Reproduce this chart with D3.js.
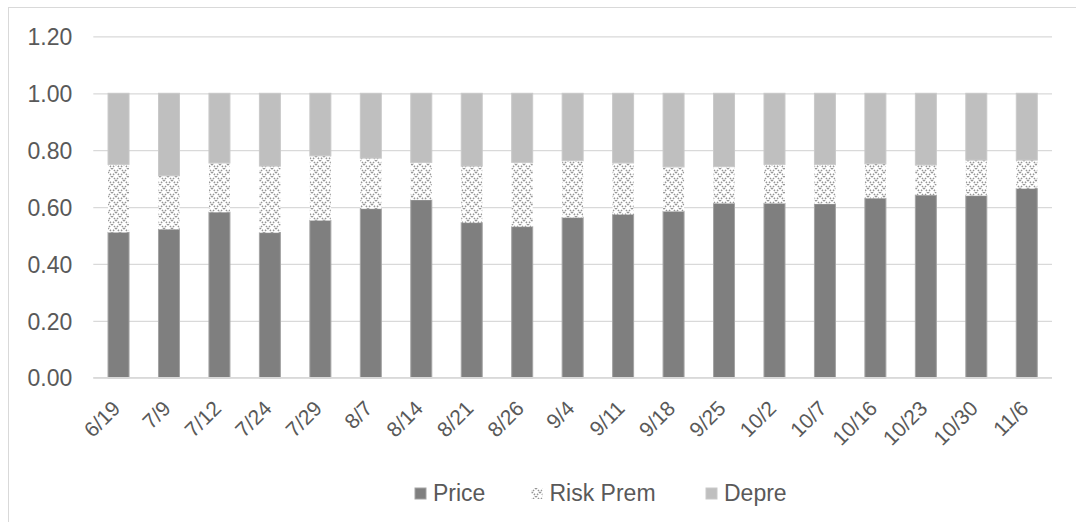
<!DOCTYPE html>
<html>
<head>
<meta charset="utf-8">
<script src="https://cdn.jsdelivr.net/npm/d3@7"></script>
<style>
  html, body { margin: 0; padding: 0; background: #fff; }
  svg { display: block; font-family: "Liberation Sans", Arial, sans-serif; }
</style>
</head>
<body>
<svg id="chart" width="1076" height="522"></svg>
<script>
// Weekly breakdown of the total into price, risk premium and depreciation shares
const categories = ["6/19","7/9","7/12","7/24","7/29","8/7","8/14","8/21","8/26","9/4","9/11","9/18","9/25","10/2","10/7","10/16","10/23","10/30","11/6"];
const price    = [0.511,0.522,0.582,0.510,0.553,0.594,0.625,0.545,0.531,0.563,0.574,0.585,0.613,0.613,0.611,0.631,0.642,0.640,0.665];
const riskPrem = [0.239,0.188,0.173,0.234,0.227,0.178,0.132,0.199,0.226,0.200,0.181,0.156,0.129,0.137,0.139,0.121,0.106,0.125,0.100];
const depre    = [0.250,0.290,0.245,0.256,0.220,0.228,0.243,0.256,0.243,0.237,0.245,0.259,0.258,0.250,0.250,0.248,0.252,0.235,0.235];
const seriesNames = ["Price", "Risk Prem", "Depre"];
const yTicks = [0, 0.2, 0.4, 0.6, 0.8, 1.0, 1.2];

const svg = d3.select("#chart");
const textColor = "#595959";
const gridColor = "#d9d9d9";

// chart area frame
svg.append("rect")
  .attr("x", 8.5).attr("y", 7.5)
  .attr("width", 1100).attr("height", 600)
  .attr("fill", "none").attr("stroke", gridColor);

// dotted-diamond hatch for the risk premium segment
const defs = svg.append("defs");
const pat = defs.append("pattern")
  .attr("id", "dotDiamond")
  .attr("patternUnits", "userSpaceOnUse")
  .attr("width", 8).attr("height", 8);
pat.append("rect").attr("width", 8).attr("height", 8).attr("fill", "#ffffff");
pat.append("path")
  .attr("d", "M0,0L8,8M8,0L0,8")
  .attr("stroke", "#969696")
  .attr("stroke-width", 1.6)
  .attr("stroke-dasharray", "1.4,1.4");

const margin = { left: 93.3, right: 1052, top: 36.4, bottom: 377.7 };

const x = d3.scaleBand()
  .domain(categories)
  .range([margin.left, margin.right])
  .paddingInner(0.584)
  .paddingOuter(0.292);

const y = d3.scaleLinear()
  .domain([0, 1.2])
  .range([margin.bottom, margin.top]);

// gridlines and y labels
const yAxis = d3.axisLeft(y)
  .tickValues(yTicks)
  .tickSize(-(margin.right - margin.left))
  .tickPadding(21)
  .tickFormat(d3.format(".2f"));

const gy = svg.append("g")
  .attr("transform", `translate(${margin.left},0)`)
  .call(yAxis);
gy.select(".domain").remove();
gy.selectAll(".tick line").attr("stroke", gridColor).attr("stroke-width", 1.3);
gy.selectAll(".tick text")
  .attr("fill", textColor)
  .attr("font-size", 23)
  .attr("dy", "0.36em");

// stacked bars
const rows = categories.map((c, i) => ({ cat: c, "Price": price[i], "Risk Prem": riskPrem[i], "Depre": depre[i] }));
const stack = d3.stack().keys(seriesNames)(rows);
const fills = { "Price": "#7f7f7f", "Risk Prem": "url(#dotDiamond)", "Depre": "#bfbfbf" };
const strokes = { "Price": "#a3a3a3", "Risk Prem": "none", "Depre": "#c9c9c9" };

stack.forEach(layer => {
  svg.append("g")
    .selectAll("rect")
    .data(layer)
    .join("rect")
    .attr("x", d => x(d.data.cat))
    .attr("width", x.bandwidth())
    .attr("y", d => y(d[1]))
    .attr("height", d => y(d[0]) - y(d[1]))
    .attr("fill", fills[layer.key])
    .attr("stroke", strokes[layer.key])
    .attr("stroke-width", 1);
});

// baseline
svg.append("line")
  .attr("x1", margin.left).attr("x2", margin.right)
  .attr("y1", y(0)).attr("y2", y(0))
  .attr("stroke", gridColor).attr("stroke-width", 1.5);

// rotated category labels
const xAxis = d3.axisBottom(x).tickSize(0).tickPadding(0);
const gx = svg.append("g")
  .attr("transform", `translate(0,${margin.bottom})`)
  .call(xAxis);
gx.select(".domain").remove();
gx.selectAll(".tick text")
  .attr("fill", textColor)
  .attr("font-size", 21)
  .attr("text-anchor", "end")
  .attr("dy", null)
  .attr("y", null)
  .attr("transform", "translate(3,32) rotate(-45)");

// legend
const legendItems = [
  { name: "Price", fill: fills["Price"], stroke: strokes["Price"], x: 415 },
  { name: "Risk Prem", fill: fills["Risk Prem"], stroke: "none", x: 531.5 },
  { name: "Depre", fill: fills["Depre"], stroke: strokes["Depre"], x: 706 }
];
const lg = svg.append("g");
legendItems.forEach(it => {
  lg.append("rect")
    .attr("x", it.x).attr("y", 488)
    .attr("width", 11).attr("height", 11)
    .attr("fill", it.fill).attr("stroke", it.stroke);
  lg.append("text")
    .attr("x", it.x + 18).attr("y", 501)
    .attr("fill", textColor)
    .attr("font-size", 23)
    .text(it.name);
});
</script>
</body>
</html>
